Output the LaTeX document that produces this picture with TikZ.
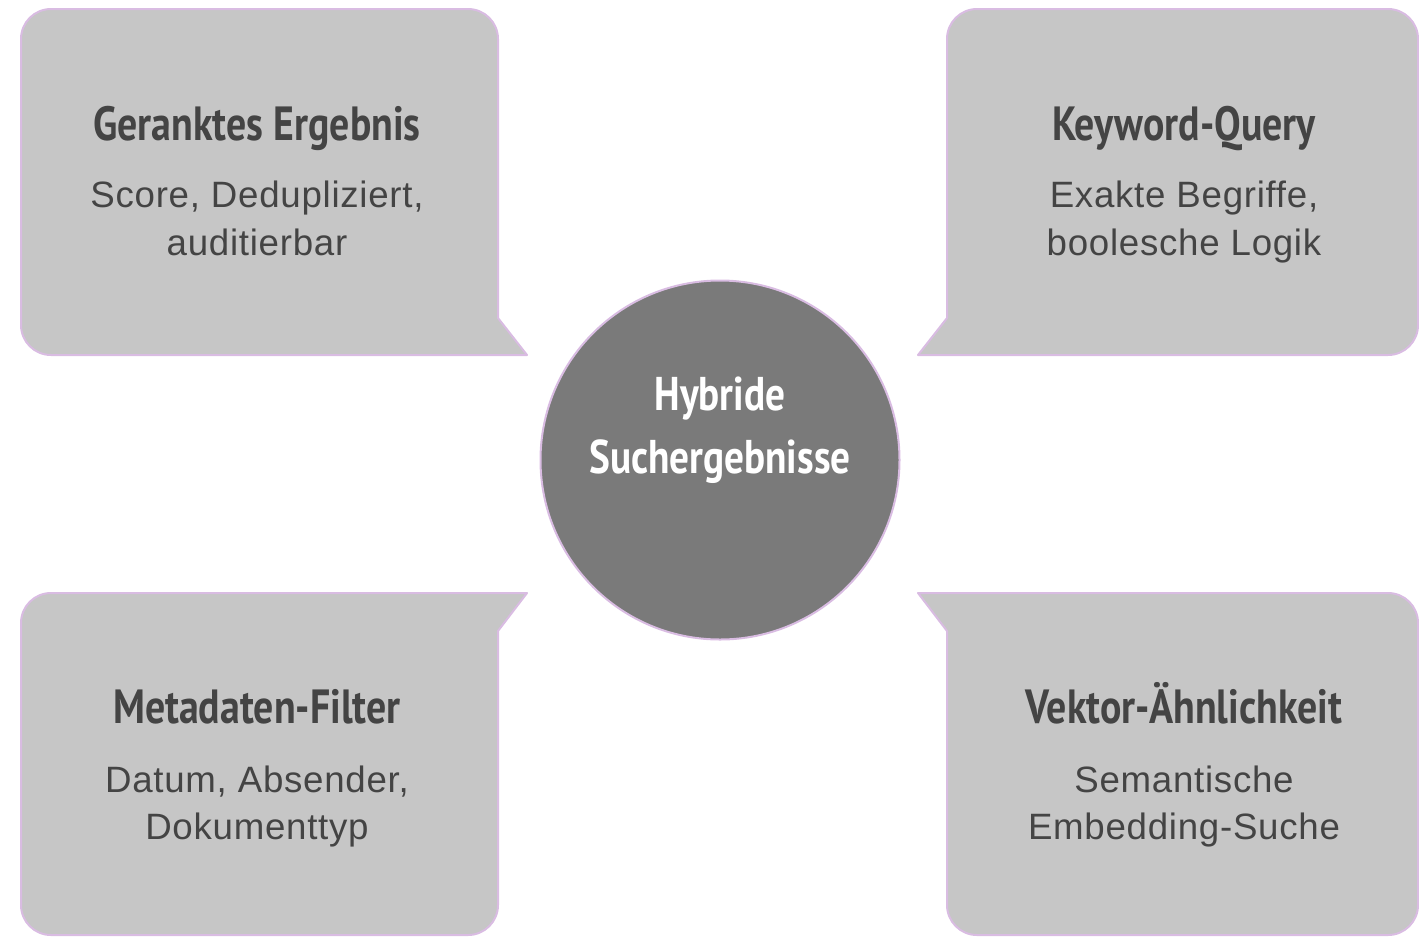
\documentclass[tikz,border=0pt]{standalone}
\usepackage{fontspec}
\setmainfont{Liberation Sans}[LetterSpace=2]
\newfontfamily\titlefont{PT Sans}[FakeStretch=0.83,BoldFont={PT Sans Bold}]
\definecolor{bubblefill}{HTML}{C6C6C6}
\definecolor{edgepurple}{HTML}{D9BCE2}
\definecolor{hubfill}{HTML}{7A7A7A}
\definecolor{txt}{HTML}{444444}
\begin{document}
\begin{tikzpicture}[x=0.75pt,y=-0.75pt,
  bubble/.style={fill=bubblefill,draw=edgepurple,line width=1.5pt,line join=round},
  hub/.style={fill=hubfill,draw=edgepurple,line width=1.5pt},
  titletext/.style={anchor=base,inner sep=0pt,text=txt,font=\titlefont\bfseries\fontsize{36}{42}\selectfont},
  hubtext/.style={anchor=base,inner sep=0pt,text=white,font=\titlefont\bfseries\fontsize{35.5}{42}\selectfont},
  bodytext/.style={anchor=base,inner sep=0pt,text=txt,font=\fontsize{27.5}{34}\selectfont}]
\useasboundingbox (0,0) rectangle (1419,936);
% top-left bubble
\draw[bubble] (51,9) -- (468,9) arc[start angle=270,end angle=360,radius=30] -- (498,318) -- (527,355) -- (51,355) arc[start angle=90,end angle=180,radius=30] -- (21,39) arc[start angle=180,end angle=270,radius=30] -- cycle;
% top-right bubble
\draw[bubble] (977,9) -- (1388,9) arc[start angle=270,end angle=360,radius=30] -- (1418,325) arc[start angle=0,end angle=90,radius=30] -- (918,355) -- (947,318) -- (947,39) arc[start angle=180,end angle=270,radius=30] -- cycle;
% bottom-left bubble
\draw[bubble] (51,593) -- (527,593) -- (498,631) -- (498,905) arc[start angle=0,end angle=90,radius=30] -- (51,935) arc[start angle=90,end angle=180,radius=30] -- (21,623) arc[start angle=180,end angle=270,radius=30] -- cycle;
% bottom-right bubble
\draw[bubble] (918,593) -- (1388,593) arc[start angle=270,end angle=360,radius=30] -- (1418,905) arc[start angle=0,end angle=90,radius=30] -- (977,935) arc[start angle=90,end angle=180,radius=30] -- (947,631) -- cycle;
% hub
\node[hub,circle,minimum size=359*0.75pt,inner sep=0pt] (hub) at (720,460) {};
\node[hubtext] (hubA) at (720,410) {Hybride};
\node[hubtext] (hubB) at (720,473) {Suchergebnisse};
% texts
\node[titletext] (tlT) at (257,140) {Geranktes Ergebnis};
\node[bodytext] (tlA) at (257,207) {Score, Dedupliziert,};
\node[bodytext] (tlB) at (257,255) {auditierbar};
\node[titletext] (trT) at (1184,140) {Keyword-Query};
\node[bodytext] (trA) at (1184,207) {Exakte Begriffe,};
\node[bodytext] (trB) at (1184,255) {boolesche Logik};
\node[titletext] (blT) at (257,723) {Metadaten-Filter};
\node[bodytext] (blA) at (257,792) {Datum, Absender,};
\node[bodytext] (blB) at (257,839) {Dokumenttyp};
\node[titletext] (brT) at (1184,723) {Vektor-Ähnlichkeit};
\node[bodytext] (brA) at (1184,792) {Semantische};
\node[bodytext] (brB) at (1184,839) {Embedding-Suche};
\end{tikzpicture}
\end{document}
